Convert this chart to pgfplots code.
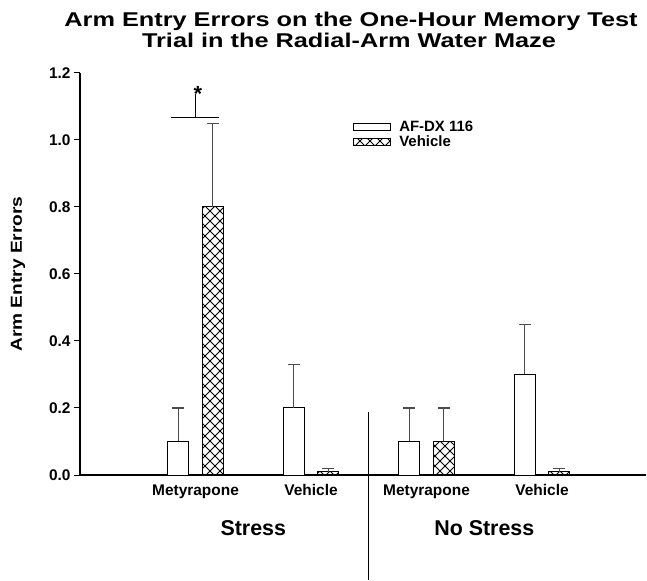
\documentclass[border=0pt]{standalone}
\usepackage{fontspec}
\setmainfont{Liberation Sans}
\newfontfamily\widefont[FakeStretch=1.27]{Liberation Sans}
\newfontfamily\ylabfont[FakeStretch=1.2]{Liberation Sans}
\usepackage{pgfplots}
\usepackage{pgfplotstable}
\pgfplotsset{compat=1.18}
\usetikzlibrary{patterns}

\pgfdeclarepatternformonly{bigcross}{\pgfpoint{-1bp}{-1bp}}{\pgfpoint{11bp}{11bp}}{\pgfpoint{10bp}{10bp}}{%
  \pgfsetlinewidth{0.8bp}%
  \pgfpathmoveto{\pgfpoint{0bp}{0bp}}\pgfpathlineto{\pgfpoint{10bp}{10bp}}%
  \pgfpathmoveto{\pgfpoint{0bp}{10bp}}\pgfpathlineto{\pgfpoint{10bp}{0bp}}%
  \pgfusepath{stroke}}

\pgfplotstableread{
x y err
1 0.10 0.10
2 0.20 0.13
3 0.10 0.10
4 0.30 0.15
}\afdx
\pgfplotstableread{
x y err
1 0.80 0.25
2 0.01 0.01
3 0.10 0.10
4 0.01 0.01
}\vehicle

\begin{document}
\begin{tikzpicture}
\useasboundingbox (0,0) rectangle (647bp,581bp);
\node[anchor=base, font=\widefont\fontsize{20}{22}\selectfont\bfseries, inner sep=0] at (351bp,{581bp-26.7bp}) {Arm Entry Errors on the One-Hour Memory Test};
\node[anchor=base, font=\widefont\fontsize{20}{22}\selectfont\bfseries, inner sep=0] at (349bp,{581bp-47.3bp}) {Trial in the Radial-Arm Water Maze};
\begin{axis}[
  at={(80bp,106bp)}, anchor=south west,
  scale only axis, width=566bp, height=402bp,
  xmin=0, xmax=4.9, ymin=0, ymax=1.2,
  axis x line*=bottom, axis y line*=left,
  axis line style={line width=1.1bp, black},
  tick align=outside, major tick length=6bp,
  tick style={line width=1bp, black},
  ytick={0,0.2,0.4,0.6,0.8,1.0,1.2},
  yticklabel style={/pgf/number format/fixed, /pgf/number format/fixed zerofill, /pgf/number format/precision=1},
  /pgf/number format/assume math mode=true,
  xtick={1,2,3,4},
  xticklabels={Metyrapone,Vehicle,Metyrapone,Vehicle},
  x tick style={draw=none},
  ticklabel style={font=\fontsize{15.5}{17}\selectfont\bfseries},
  ylabel={Arm Entry Errors},
  ylabel style={at={(axis description cs:-0.1095,0.5)}, anchor=center, font=\ylabfont\fontsize{16}{18}\selectfont\bfseries},
  clip=false,
  legend style={at={(axis description cs:0.482,0.885)}, anchor=north west, draw=none, fill=none,
    font=\fontsize{15}{17}\selectfont\bfseries, row sep=0bp, inner sep=0pt,
    nodes={inner sep=1.5bp}, column sep=7bp},
  legend cell align=left,
  error bars/y dir=plus, error bars/y explicit,
  error bars/error bar style={line width=1.3bp, black!70},
  error bars/error mark options={rotate=90, mark size=6bp, line width=1.3bp, black!70},
]
\addplot[ybar, bar width=0.182, bar shift=0, draw=black, line width=1bp, fill=white,
  legend image code/.code={\draw[draw=black, line width=0.8bp, fill=white] (0bp,-3.7bp) rectangle (37bp,3.7bp);}]
  table[x expr=\thisrow{x}-0.149, y=y, y error=err] {\afdx};
\addlegendentry{AF-DX 116}
\addplot[ybar, bar width=0.182, bar shift=0, draw=black, line width=1bp, pattern=bigcross,
  legend image code/.code={\draw[draw=black, line width=0.8bp, pattern=bigcross] (0bp,-3.7bp) rectangle (37bp,3.7bp);}]
  table[x expr=\thisrow{x}+0.149, y=y, y error=err] {\vehicle};
\addlegendentry{Vehicle}
% significance bracket
\draw[line width=1.1bp] (axis cs:0.792,1.068) -- (axis cs:1.204,1.068);
\draw[line width=1.1bp] (axis cs:1,1.068) -- (axis cs:1,1.137);
\node[anchor=base, inner sep=0, font=\fontsize{22}{24}\selectfont\bfseries] at (axis cs:1.02,1.115) {*};
% group divider
\draw[line width=1bp] (axis cs:2.5,0.188) -- ([yshift=-105bp]axis cs:2.5,0);
% group labels
\node[anchor=base, inner sep=0, font=\fontsize{21.5}{23}\selectfont\bfseries] at ([yshift=-60bp]axis cs:1.5,0) {Stress};
\node[anchor=base, inner sep=0, font=\fontsize{21.5}{23}\selectfont\bfseries] at ([yshift=-60bp]axis cs:3.5,0) {No Stress};
\end{axis}
\end{tikzpicture}
\end{document}
